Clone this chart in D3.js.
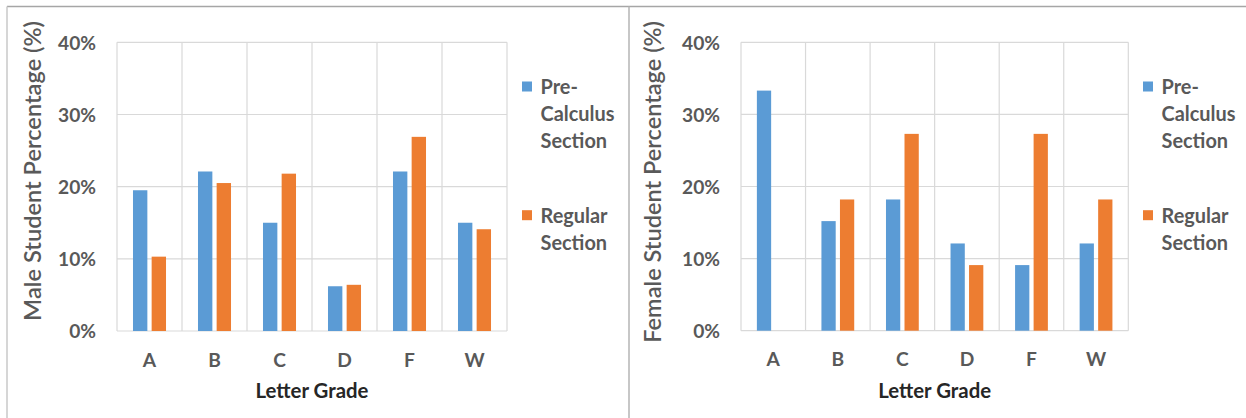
<!DOCTYPE html>
<html>
<head>
<meta charset="utf-8">
<script src="https://cdn.jsdelivr.net/npm/d3@7"></script>
<style>
  html, body { margin: 0; padding: 0; background: #ffffff; }
  svg { display: block; }
  text { font-family: Lato, "Open Sans", sans-serif; }
</style>
</head>
<body>
<svg id="chart" width="1246" height="418"></svg>
<script>
// Letter grades along the x axis
const grades = ["A", "B", "C", "D", "F", "W"];
// Series names shown in the legend
const seriesNames = ["Pre-Calculus Section", "Regular Section"];
// Legend label lines for each series
const legendLines = [["Pre-", "Calculus", "Section"], ["Regular", "Section"]];
// Male students, percent per grade
const malePreCalc = [19.5, 22.1, 15.0, 6.2, 22.1, 15.0];
const maleRegular = [10.3, 20.5, 21.8, 6.4, 26.9, 14.1];
// Female students, percent per grade
const femalePreCalc = [33.3, 15.2, 18.2, 12.1, 9.1, 12.1];
const femaleRegular = [0.0, 18.2, 27.3, 9.1, 27.3, 18.2];
// Y axis ticks in percent
const yTicks = [0, 10, 20, 30, 40];

const colors = ["#5B9BD5", "#ED7D31"];
const gridColor = "#D9D9D9";
const labelGray = "#595959";

const svg = d3.select("#chart");

// Panel frames
svg.append("line").attr("x1", 7).attr("x2", 1246).attr("y1", 6.5).attr("y2", 6.5)
  .attr("stroke", "#a6a6a6").attr("stroke-width", 1.5);
svg.append("line").attr("x1", 7).attr("x2", 7).attr("y1", 6.5).attr("y2", 418)
  .attr("stroke", "#c8c8c8").attr("stroke-width", 1.5);
svg.append("line").attr("x1", 629).attr("x2", 629).attr("y1", 6.5).attr("y2", 418)
  .attr("stroke", "#b4b4b4").attr("stroke-width", 1.5);

// Scale a text element's font size so its rendered width equals `target`
function fitWidth(sel, target) {
  const w = sel.node().getComputedTextLength();
  const fs = parseFloat(sel.attr("font-size"));
  const nfs = fs * target / w;
  sel.attr("font-size", nfs);
  return nfs;
}

function drawPanel(cfg) {
  const g = svg.append("g");
  const x = d3.scaleBand().domain(grades).range([cfg.left, cfg.right]).padding(0);
  const bw = x.bandwidth();
  const xs = d3.scaleBand().domain(seriesNames).range([bw * 0.246, bw * 0.754]).paddingInner(0.23);
  const y = d3.scaleLinear().domain([0, 40]).range([cfg.bottom, cfg.top]);

  // Horizontal gridlines
  g.append("g").selectAll("line").data(yTicks).join("line")
    .attr("x1", cfg.left).attr("x2", cfg.right)
    .attr("y1", d => y(d)).attr("y2", d => y(d))
    .attr("stroke", gridColor).attr("stroke-width", 1.2);

  // Vertical gridlines at category boundaries
  const bounds = grades.map(d => x(d)).concat([cfg.right]);
  g.append("g").selectAll("line").data(bounds).join("line")
    .attr("x1", d => d).attr("x2", d => d)
    .attr("y1", cfg.top).attr("y2", cfg.bottom)
    .attr("stroke", gridColor).attr("stroke-width", 1.2);

  // Bars
  const rows = grades.map((gr, i) => ({ grade: gr, values: [cfg.series[0][i], cfg.series[1][i]] }));
  const groups = g.append("g").selectAll("g").data(rows).join("g")
    .attr("transform", d => `translate(${x(d.grade)},0)`);
  groups.selectAll("rect").data(d => d.values.map((v, k) => ({ v, k }))).join("rect")
    .attr("x", d => xs(seriesNames[d.k]))
    .attr("width", xs.bandwidth())
    .attr("y", d => y(d.v))
    .attr("height", d => y(0) - y(d.v))
    .attr("fill", d => colors[d.k]);

  // Y axis tick labels
  const yAxis = d3.axisLeft(y).tickValues(yTicks).tickFormat(d => d + "%").tickSize(0).tickPadding(0);
  const ya = g.append("g").attr("transform", `translate(${cfg.left - 21},0)`).call(yAxis);
  ya.select(".domain").remove();
  ya.selectAll("text")
    .attr("font-family", "Lato, sans-serif").attr("font-weight", 700)
    .attr("fill", labelGray).attr("font-size", 18).attr("dy", "0.36em");
  const tickFs = fitWidth(ya.selectAll("text").filter(d => d === 40), 38);
  ya.selectAll("text").attr("font-size", tickFs);

  // X axis category labels
  const xAxis = d3.axisBottom(x).tickSize(0).tickPadding(0);
  const xa = g.append("g").attr("transform", `translate(0,${cfg.bottom})`).call(xAxis);
  xa.select(".domain").remove();
  xa.selectAll("text")
    .attr("font-family", "Lato, sans-serif").attr("font-weight", 700)
    .attr("fill", labelGray).attr("font-size", tickFs)
    .attr("y", 35.7).attr("dy", 0);

  // Axis titles
  const xt = g.append("text")
    .attr("x", (cfg.left + cfg.right) / 2).attr("y", 397.5)
    .attr("text-anchor", "middle").attr("font-weight", 700)
    .attr("fill", "#262626").attr("font-size", 18)
    .text("Letter Grade");
  fitWidth(xt, 113);

  const yt = g.append("text")
    .attr("transform", `translate(${cfg.titleX},21) rotate(-90)`)
    .attr("text-anchor", "end").attr("font-weight", 600)
    .attr("fill", labelGray).attr("font-size", 20)
    .text(cfg.title);
  fitWidth(yt, cfg.titleLen);

  // Legend
  const lg = g.append("g").attr("transform", `translate(${cfg.legendX},0)`);
  const lineStarts = [94, 222.7];
  let legendFs = 18;
  legendLines.forEach((lines, k) => {
    lg.append("rect").attr("x", 0).attr("y", lineStarts[k] - 12.5)
      .attr("width", 10).attr("height", 10).attr("fill", colors[k]);
    lines.forEach((t, j) => {
      const tx = lg.append("text").attr("x", 18.5).attr("y", lineStarts[k] + j * 27)
        .attr("font-weight", 700).attr("fill", labelGray).attr("font-size", 18).text(t);
      if (t === "Calculus") legendFs = fitWidth(tx, 74);
    });
  });
  lg.selectAll("text").attr("font-size", legendFs);
}

drawPanel({
  left: 117, right: 507, top: 42.3, bottom: 331,
  series: [malePreCalc, maleRegular],
  title: "Male Student Percentage (%)", titleX: 41, titleLen: 300,
  legendX: 522
});

drawPanel({
  left: 741, right: 1128.3, top: 42.3, bottom: 330.7,
  series: [femalePreCalc, femaleRegular],
  title: "Female Student Percentage (%)", titleX: 661, titleLen: 322,
  legendX: 1143
});
</script>
</body>
</html>
